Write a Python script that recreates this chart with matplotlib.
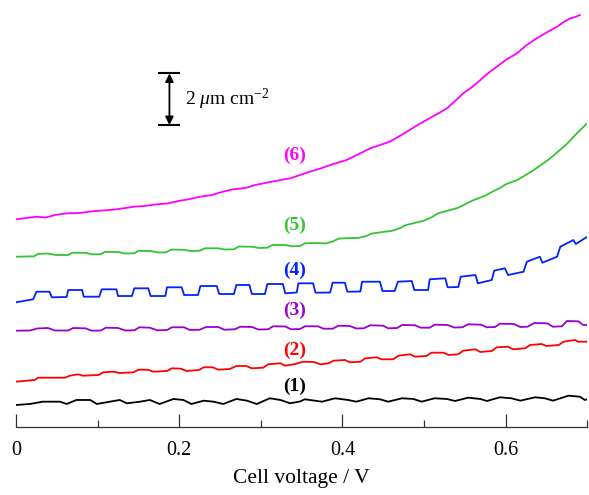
import numpy as np
from matplotlib import pyplot as plt
from matplotlib.ticker import FixedLocator, FixedFormatter

plt.rcParams['font.family'] = 'Liberation Serif'
plt.rcParams['mathtext.fontset'] = 'custom'
plt.rcParams['mathtext.rm'] = 'Liberation Serif'
plt.rcParams['mathtext.it'] = 'Liberation Serif:italic'

# traces, offset vertically (unit: um cm-2), x = cell voltage / V
v1 = [0.000, 0.017, 0.033, 0.054, 0.062, 0.074, 0.091, 0.099, 0.115, 0.127, 0.136, 0.152,
      0.164, 0.176, 0.193, 0.205, 0.215, 0.230, 0.242, 0.254, 0.270, 0.283, 0.295, 0.311,
      0.324, 0.336, 0.348, 0.354, 0.366, 0.375, 0.391, 0.407, 0.417, 0.432, 0.446, 0.456,
      0.473, 0.487, 0.497, 0.513, 0.528, 0.538, 0.554, 0.569, 0.577, 0.593, 0.607, 0.618,
      0.636, 0.648, 0.658, 0.677, 0.691, 0.697, 0.700]
j1 = [0.870, 0.909, 0.998, 0.998, 0.909, 1.064, 1.064, 0.909, 0.998, 1.064, 0.936, 0.998,
      1.064, 0.909, 1.103, 1.064, 0.909, 1.037, 0.998, 0.909, 1.103, 1.037, 0.909, 1.130,
      1.064, 0.936, 1.006, 1.091, 1.037, 0.998, 1.130, 1.064, 0.998, 1.130, 1.091, 0.998,
      1.130, 1.103, 0.998, 1.130, 1.103, 1.025, 1.153, 1.103, 1.025, 1.168, 1.130, 1.037,
      1.168, 1.130, 1.037, 1.230, 1.191, 1.064, 1.091]

v2 = [0.000, 0.023, 0.027, 0.060, 0.066, 0.076, 0.082, 0.101, 0.107, 0.119, 0.127, 0.144,
      0.150, 0.162, 0.168, 0.185, 0.191, 0.202, 0.209, 0.224, 0.230, 0.241, 0.248, 0.262,
      0.270, 0.282, 0.289, 0.303, 0.309, 0.324, 0.330, 0.342, 0.352, 0.365, 0.373, 0.383,
      0.389, 0.403, 0.409, 0.422, 0.428, 0.442, 0.448, 0.462, 0.469, 0.483, 0.489, 0.503,
      0.509, 0.524, 0.530, 0.542, 0.548, 0.563, 0.569, 0.583, 0.589, 0.603, 0.609, 0.624,
      0.630, 0.644, 0.650, 0.665, 0.671, 0.685, 0.689, 0.700]
j2 = [1.772, 1.838, 1.926, 1.926, 2.004, 2.058, 2.004, 2.031, 2.135, 2.159, 2.108, 2.135,
      2.236, 2.232, 2.159, 2.186, 2.290, 2.275, 2.186, 2.224, 2.329, 2.329, 2.236, 2.263,
      2.379, 2.379, 2.290, 2.313, 2.445, 2.484, 2.391, 2.456, 2.545, 2.534, 2.445, 2.484,
      2.584, 2.611, 2.522, 2.545, 2.677, 2.716, 2.638, 2.638, 2.778, 2.832, 2.739, 2.766,
      2.894, 2.894, 2.805, 2.832, 2.971, 3.025, 2.921, 2.959, 3.103, 3.126, 3.025, 3.064,
      3.191, 3.230, 3.153, 3.191, 3.319, 3.385, 3.319, 3.319]

v3 = [0.000, 0.017, 0.026, 0.039, 0.048, 0.064, 0.070, 0.085, 0.093, 0.104, 0.110, 0.125,
      0.134, 0.145, 0.151, 0.164, 0.173, 0.185, 0.191, 0.206, 0.213, 0.225, 0.233, 0.248,
      0.255, 0.268, 0.275, 0.289, 0.297, 0.309, 0.315, 0.330, 0.337, 0.348, 0.354, 0.370,
      0.377, 0.388, 0.395, 0.409, 0.417, 0.426, 0.434, 0.450, 0.456, 0.467, 0.473, 0.489,
      0.496, 0.507, 0.513, 0.529, 0.537, 0.547, 0.554, 0.570, 0.577, 0.587, 0.593, 0.610,
      0.618, 0.627, 0.635, 0.651, 0.658, 0.669, 0.675, 0.689, 0.695, 0.700]
j3 = [3.745, 3.752, 3.830, 3.849, 3.752, 3.752, 3.849, 3.837, 3.745, 3.752, 3.861, 3.849,
      3.752, 3.760, 3.876, 3.861, 3.760, 3.772, 3.876, 3.876, 3.772, 3.783, 3.888, 3.888,
      3.783, 3.799, 3.899, 3.888, 3.791, 3.799, 3.915, 3.907, 3.799, 3.810, 3.915, 3.915,
      3.822, 3.822, 3.938, 3.926, 3.830, 3.837, 3.954, 3.938, 3.837, 3.849, 3.965, 3.954,
      3.861, 3.861, 3.977, 3.965, 3.868, 3.876, 3.992, 3.977, 3.876, 3.888, 4.015, 4.004,
      3.888, 3.899, 4.043, 4.031, 3.899, 3.915, 4.120, 4.108, 3.965, 3.965]

v4 = [0.000, 0.021, 0.025, 0.041, 0.044, 0.062, 0.064, 0.081, 0.083, 0.102, 0.105, 0.123,
      0.125, 0.142, 0.145, 0.162, 0.165, 0.183, 0.185, 0.203, 0.206, 0.223, 0.226, 0.246,
      0.249, 0.267, 0.270, 0.286, 0.289, 0.305, 0.308, 0.327, 0.330, 0.344, 0.346, 0.364,
      0.367, 0.385, 0.388, 0.403, 0.406, 0.422, 0.424, 0.446, 0.449, 0.464, 0.468, 0.485,
      0.488, 0.505, 0.507, 0.526, 0.529, 0.542, 0.545, 0.563, 0.566, 0.583, 0.586, 0.599,
      0.603, 0.622, 0.626, 0.642, 0.645, 0.663, 0.667, 0.683, 0.686, 0.699]
j4 = [4.843, 4.959, 5.253, 5.253, 5.037, 5.048, 5.319, 5.319, 5.060, 5.060, 5.346, 5.346,
      5.087, 5.087, 5.385, 5.385, 5.087, 5.087, 5.424, 5.424, 5.126, 5.126, 5.474, 5.474,
      5.164, 5.164, 5.513, 5.513, 5.164, 5.164, 5.551, 5.551, 5.191, 5.222, 5.578, 5.578,
      5.215, 5.222, 5.602, 5.602, 5.253, 5.261, 5.640, 5.640, 5.280, 5.280, 5.640, 5.667,
      5.319, 5.319, 5.733, 5.772, 5.424, 5.435, 5.834, 5.899, 5.578, 5.706, 6.066, 6.159,
      5.899, 6.027, 6.414, 6.607, 6.375, 6.607, 6.994, 7.253, 7.099, 7.358]

v5 = [0.000, 0.011, 0.022, 0.027, 0.039, 0.049, 0.064, 0.069, 0.085, 0.093, 0.104, 0.109,
      0.125, 0.134, 0.145, 0.150, 0.165, 0.174, 0.184, 0.190, 0.206, 0.214, 0.225, 0.232,
      0.248, 0.256, 0.267, 0.273, 0.289, 0.298, 0.308, 0.314, 0.330, 0.338, 0.348, 0.354,
      0.370, 0.379, 0.388, 0.395, 0.410, 0.419, 0.429, 0.436, 0.452, 0.460, 0.471, 0.477,
      0.493, 0.500, 0.510, 0.517, 0.532, 0.542, 0.551, 0.559, 0.574, 0.583, 0.593, 0.600,
      0.614, 0.624, 0.634, 0.642, 0.654, 0.664, 0.674, 0.683, 0.691, 0.700]
j5 = [6.607, 6.615, 6.623, 6.720, 6.731, 6.673, 6.673, 6.758, 6.758, 6.700, 6.700, 6.797,
      6.789, 6.731, 6.739, 6.836, 6.828, 6.770, 6.778, 6.886, 6.874, 6.828, 6.839, 6.936,
      6.932, 6.886, 6.894, 7.002, 6.994, 6.944, 6.956, 7.060, 7.060, 7.010, 7.021, 7.126,
      7.137, 7.118, 7.195, 7.304, 7.331, 7.331, 7.408, 7.505, 7.575, 7.602, 7.718, 7.822,
      7.950, 8.000, 8.143, 8.286, 8.414, 8.503, 8.646, 8.774, 8.956, 9.110, 9.265, 9.408,
      9.574, 9.756, 9.950, 10.128, 10.398, 10.669, 10.940, 11.238, 11.497, 11.768]

v6 = [0.000, 0.012, 0.025, 0.036, 0.048, 0.062, 0.078, 0.091, 0.103, 0.121, 0.134, 0.144,
      0.158, 0.170, 0.185, 0.199, 0.213, 0.225, 0.240, 0.252, 0.266, 0.281, 0.293, 0.307,
      0.321, 0.336, 0.348, 0.360, 0.373, 0.385, 0.405, 0.419, 0.434, 0.446, 0.458, 0.468,
      0.479, 0.490, 0.503, 0.515, 0.528, 0.538, 0.548, 0.559, 0.569, 0.578, 0.589, 0.600,
      0.614, 0.625, 0.638, 0.650, 0.663, 0.672, 0.679, 0.685, 0.691]
j6 = [8.054, 8.104, 8.155, 8.124, 8.221, 8.286, 8.298, 8.356, 8.387, 8.433, 8.491, 8.542,
      8.569, 8.627, 8.665, 8.762, 8.839, 8.928, 8.994, 9.110, 9.215, 9.265, 9.381, 9.470,
      9.555, 9.640, 9.768, 9.896, 10.019, 10.155, 10.348, 10.561, 10.801, 10.928, 11.056, 11.238,
      11.443, 11.663, 11.896, 12.108, 12.348, 12.631, 12.928, 13.172, 13.443, 13.694, 13.957, 14.217,
      14.476, 14.778, 15.056, 15.280, 15.505, 15.706, 15.830, 15.880, 15.957]

labels = ['(1)', '(2)', '(3)', '(4)', '(5)', '(6)']
label_y = [1.58, 3.00, 4.55, 6.09, 7.83, 10.54]
colors = ['black', '#ff0000', '#9900cc', '#0022ff', '#33c433', '#ff00ff']

fig = plt.figure(figsize=(5.89, 4.95), dpi=100)
ax = fig.add_axes([0.0272, 0.1364, 0.9698, 0.8636])

xs = [v1, v2, v3, v4, v5, v6]
ys = [j1, j2, j3, j4, j5, j6]
for x, y, c in zip(xs, ys, colors):
    ax.plot(x, y, color=c, lw=1.3)

for lab, ly, c in zip(labels, label_y, colors):
    ax.text(0.341, ly, lab, color=c, fontsize=14, fontweight='bold',
            ha='center', va='center')

# scale bar: 2 um cm-2
bar_x = 0.188
bar_lo, bar_hi = 11.7, 13.7
ax.annotate('', xy=(bar_x, bar_hi), xytext=(bar_x, bar_lo),
            arrowprops=dict(arrowstyle='<|-|>', color='black', lw=1.3,
                            mutation_scale=12, shrinkA=0, shrinkB=0))
ax.hlines([bar_lo, bar_hi], bar_x - 0.0135, bar_x + 0.0135, color='black', lw=1.5)
ax.text(0.207, (bar_lo + bar_hi) / 2, r'2 $\mu$m cm$^{-2}$', fontsize=14,
        ha='left', va='center')

ax.set_xlim(0, 0.7)
ax.set_ylim(0, 16.54)
for s in ['top', 'right', 'left']:
    ax.spines[s].set_visible(False)
ax.spines['bottom'].set_linewidth(0.9)
ax.spines['bottom'].set_color('#333333')
ax.set_yticks([])
ax.xaxis.set_major_locator(FixedLocator([0, 0.2, 0.4, 0.6]))
ax.xaxis.set_major_formatter(FixedFormatter(['0', '0.2', '0.4', '0.6']))
ax.xaxis.set_minor_locator(FixedLocator([0.1, 0.3, 0.5, 0.7]))
ax.tick_params(axis='x', which='major', direction='in', length=9.5, width=0.9,
               color='#333333', labelsize=14.5, pad=10)
ax.tick_params(axis='x', which='minor', direction='in', length=4.7, width=0.9,
               color='#333333')
ax.set_xlabel('Cell voltage / V', fontsize=15.5, labelpad=6)

plt.savefig('out.png', dpi=100)
